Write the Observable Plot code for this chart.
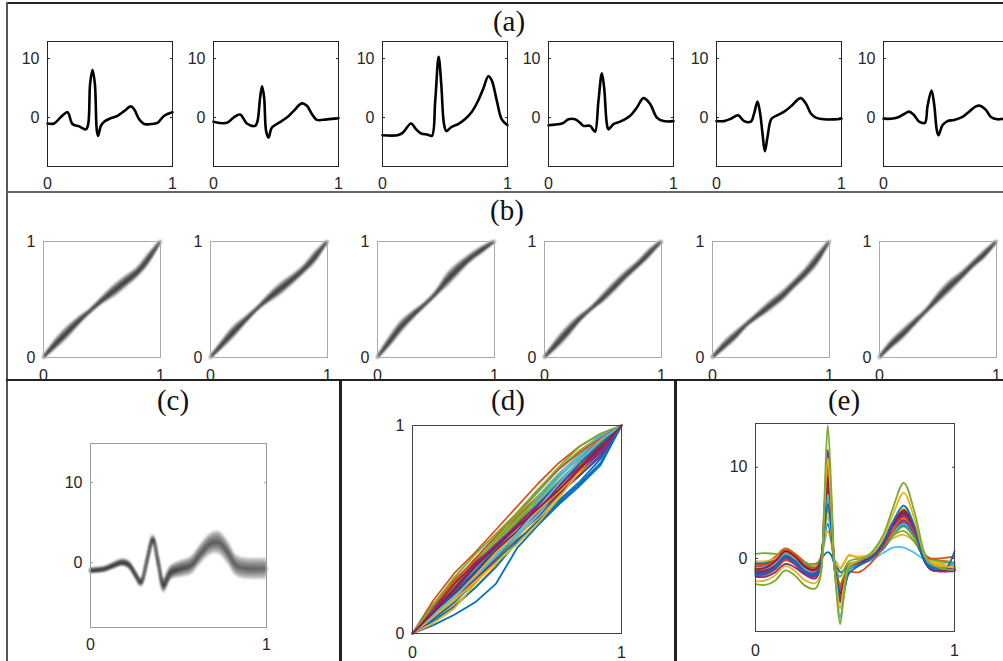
<!DOCTYPE html>
<html><head><meta charset="utf-8">
<script src="https://cdn.jsdelivr.net/npm/d3@7"></script>
<script src="https://cdn.jsdelivr.net/npm/@observablehq/plot@0.6"></script>
<style>
html,body{margin:0;padding:0;background:#fff;}
#fig{position:relative;width:1003px;height:661px;overflow:hidden;background:#fff;}
.cell{position:absolute;}
.cell svg{overflow:visible;max-width:none !important;display:block;}
.ttl{position:absolute;font-family:"Liberation Serif","Times New Roman",serif;font-size:29px;color:#111;transform:translate(-50%,-50%);white-space:nowrap;line-height:1;}
.ln{position:absolute;}
</style></head><body><div id="fig"></div>
<script>
// ---------------- DATA ----------------
const unitTicks = [0, 1];
const ecgTicks = [0, 10];
const titles = ["(a)", "(b)", "(c)", "(d)", "(e)"];
const matlabColors = ["#0072BD", "#D95319", "#EDB120", "#7E2F8E", "#77AC30", "#4DBEEE", "#A2142F"];

// (a) individual beats
const a1x = [0,0.053,0.107,0.16,0.2,0.253,0.307,0.325,0.341,0.36,0.379,0.395,0.405,0.427,0.453,0.507,0.56,0.613,0.667,0.693,0.733,0.773,0.827,0.88,0.933,1];
const a1y = [-1.0,-1.0,0.1,0.9,-1.1,-1.5,-2.0,-1.2,5.7,8.1,5.7,-2.3,-3.1,-1.4,-0.7,-0.1,0.3,1.1,1.9,1.4,-0.3,-1.1,-1.1,-0.9,0.3,0.9];
const a2x = [0,0.107,0.16,0.213,0.267,0.333,0.352,0.373,0.389,0.405,0.421,0.44,0.467,0.507,0.587,0.64,0.707,0.747,0.787,0.827,0.907,1];
const a2y = [-0.7,-0.9,0.0,0.5,-1.0,-1.4,-0.6,3.4,5.3,3.4,-2.3,-3.4,-1.7,-1.1,0.0,1.1,2.4,2.0,0.6,-0.4,-0.3,-0.1];
const a3x = [0,0.121,0.161,0.228,0.269,0.309,0.363,0.395,0.422,0.449,0.47,0.492,0.511,0.551,0.605,0.659,0.712,0.766,0.806,0.847,0.874,0.914,0.954,1];
const a3y = [-3.0,-3.0,-2.6,-1.0,-2.0,-2.7,-2.9,-3.1,2.9,10.3,5.7,-1.1,-2.3,-1.6,-1.1,-0.3,0.9,2.9,4.9,7.0,6.3,2.9,-0.3,-1.3];
const a4x = [0,0.093,0.12,0.16,0.213,0.253,0.28,0.333,0.355,0.373,0.4,0.427,0.445,0.467,0.48,0.52,0.573,0.653,0.707,0.76,0.813,0.867,0.92,1];
const a4y = [-1.3,-1.1,-0.9,-0.3,-0.3,-0.9,-1.4,-1.4,-2.0,-2.4,2.9,7.5,5.1,-1.1,-2.0,-1.1,-0.7,0.3,1.7,3.3,2.3,0.0,-0.6,-0.6];
const a5x = [0,0.061,0.115,0.173,0.221,0.275,0.301,0.328,0.349,0.368,0.387,0.408,0.44,0.488,0.541,0.595,0.648,0.675,0.715,0.755,0.795,0.861,0.941,1];
const a5y = [-0.6,-0.6,-0.2,0.4,-0.6,-0.7,0.7,2.7,0.7,-2.7,-5.7,-3.3,-0.2,0.4,1.0,1.9,3.0,3.3,2.4,0.7,0.0,-0.3,-0.3,-0.2];
const a6x = [0,0.059,0.112,0.165,0.205,0.245,0.285,0.331,0.352,0.384,0.405,0.427,0.44,0.472,0.512,0.565,0.632,0.685,0.739,0.773,0.819,0.859,0.912,0.963,1];
const a6y = [-0.2,-0.2,0.0,0.6,1.0,0.4,-0.7,-0.9,1.9,4.6,2.3,-2.2,-3.0,-1.3,-0.6,-0.4,0.1,1.0,1.9,2.0,1.3,0.1,-0.3,-0.2,-0.2];
// x tick labels shown per (a) panel (the last panel's "1" falls outside the figure)
const aXTicks = [[0,1],[0,1],[0,1],[0,1],[0,1],[0]];

// (b) warping functions: centre of the bundle and its half spread
const bx = [0,0.1,0.2,0.3,0.4,0.5,0.6,0.7,0.8,0.9,1];
const b1y = [0,0.11,0.21,0.31,0.40,0.49,0.57,0.65,0.73,0.85,1];
const b1w = [0.006,0.035,0.042,0.03,0.014,0.025,0.042,0.042,0.035,0.04,0.006];
const b2y = [0,0.11,0.22,0.32,0.42,0.51,0.59,0.67,0.76,0.87,1];
const b2w = [0.006,0.03,0.042,0.025,0.012,0.03,0.042,0.035,0.03,0.04,0.006];
const b3y = [0,0.13,0.26,0.36,0.45,0.55,0.67,0.77,0.86,0.93,1];
const b3w = [0.006,0.035,0.042,0.03,0.014,0.018,0.048,0.042,0.03,0.025,0.006];
const b4y = [0,0.11,0.22,0.33,0.42,0.51,0.61,0.71,0.80,0.90,1];
const b4w = [0.006,0.035,0.042,0.025,0.012,0.03,0.035,0.03,0.025,0.03,0.006];
const b5y = [0,0.10,0.19,0.29,0.37,0.45,0.53,0.63,0.73,0.85,1];
const b5w = [0.006,0.03,0.03,0.014,0.025,0.035,0.035,0.03,0.035,0.042,0.006];
const b6y = [0,0.11,0.20,0.30,0.40,0.51,0.61,0.70,0.80,0.89,1];
const b6w = [0.006,0.03,0.035,0.025,0.014,0.035,0.042,0.03,0.025,0.03,0.006];

// (c) template band
const cx = [0,0.076,0.13,0.18,0.22,0.256,0.288,0.32,0.356,0.386,0.417,0.455,0.51,0.57,0.625,0.68,0.73,0.78,0.83,0.89,1.0];
const cy = [-1.0,-0.85,-0.4,0.0,-0.3,-1.5,-2.5,0.0,2.9,0.0,-2.9,-1.3,-0.8,-0.4,1.05,2.3,2.5,1.3,-0.4,-0.75,-0.75];
const cw = [0.35,0.35,0.4,0.45,0.5,0.5,0.55,0.6,0.6,0.7,0.9,0.9,1.0,1.1,1.2,1.3,1.4,1.4,1.3,1.3,1.3];

// (d) estimated warping functions
const dx = [0,0.1,0.2,0.3,0.4,0.5,0.6,0.7,0.8,0.9,1];
const dCurves = [
  [0,0.04,0.09,0.15,0.24,0.41,0.52,0.62,0.71,0.81,1],
  [0,0.16,0.29,0.39,0.50,0.61,0.72,0.82,0.90,0.96,1],
  [0,0.07,0.14,0.22,0.33,0.44,0.55,0.66,0.77,0.88,1],
  [0,0.14,0.24,0.33,0.43,0.53,0.63,0.73,0.83,0.91,1],
  [0,0.12,0.25,0.36,0.46,0.57,0.68,0.79,0.88,0.95,1],
  [0,0.10,0.20,0.31,0.40,0.49,0.62,0.73,0.82,0.93,1],
  [0,0.11,0.21,0.30,0.39,0.48,0.60,0.68,0.78,0.88,1],
  [0,0.08,0.17,0.27,0.37,0.47,0.56,0.67,0.76,0.86,1],
  [0,0.13,0.26,0.35,0.44,0.56,0.66,0.75,0.85,0.93,1],
  [0,0.09,0.19,0.28,0.40,0.51,0.60,0.70,0.80,0.90,1],
  [0,0.10,0.19,0.29,0.39,0.50,0.59,0.70,0.78,0.87,1],
  [0,0.09,0.18,0.30,0.42,0.52,0.64,0.75,0.86,0.94,1],
  [0,0.12,0.22,0.33,0.44,0.53,0.66,0.77,0.86,0.96,1],
  [0,0.07,0.16,0.26,0.36,0.46,0.58,0.70,0.80,0.90,1],
  [0,0.06,0.13,0.22,0.32,0.44,0.54,0.64,0.73,0.84,1],
  [0,0.10,0.22,0.33,0.43,0.53,0.62,0.72,0.82,0.91,1],
  [0,0.05,0.12,0.24,0.35,0.46,0.57,0.68,0.79,0.89,1],
  [0,0.08,0.18,0.27,0.38,0.49,0.58,0.67,0.76,0.85,1],
  [0,0.11,0.23,0.34,0.45,0.55,0.65,0.76,0.84,0.92,1],
  [0,0.09,0.17,0.28,0.38,0.47,0.57,0.70,0.81,0.90,1],
  [0,0.12,0.24,0.34,0.42,0.52,0.61,0.71,0.81,0.90,1],
  [0,0.07,0.15,0.25,0.35,0.45,0.53,0.63,0.72,0.82,1],
  [0,0.09,0.20,0.31,0.41,0.50,0.61,0.71,0.81,0.92,1],
  [0,0.08,0.16,0.25,0.34,0.43,0.53,0.65,0.78,0.89,1],
  [0,0.12,0.21,0.31,0.41,0.51,0.61,0.69,0.79,0.88,1],
  [0,0.10,0.21,0.32,0.43,0.54,0.63,0.73,0.83,0.92,1],
  [0,0.11,0.21,0.31,0.42,0.50,0.63,0.75,0.85,0.95,1],
  [0,0.09,0.19,0.29,0.40,0.49,0.60,0.71,0.82,0.91,1],
  [0,0.10,0.20,0.30,0.41,0.52,0.62,0.72,0.82,0.91,1],
  [0,0.13,0.25,0.36,0.47,0.58,0.69,0.79,0.87,0.94,1],
  [0,0.08,0.17,0.28,0.39,0.48,0.59,0.69,0.79,0.89,1],
  [0,0.11,0.22,0.33,0.43,0.52,0.62,0.72,0.80,0.89,1],
  [0,0.14,0.27,0.38,0.48,0.58,0.69,0.80,0.90,0.96,1],
  [0,0.09,0.18,0.27,0.37,0.48,0.60,0.72,0.83,0.93,1],
  [0,0.10,0.21,0.32,0.42,0.51,0.60,0.69,0.79,0.89,1]
];

// (e) aligned beats
const ex = [0,0.05,0.10,0.15,0.20,0.25,0.30,0.325,0.345,0.363,0.38,0.395,0.41,0.425,0.445,0.47,0.52,0.58,0.64,0.69,0.745,0.80,0.85,0.88,0.92,0.96,1.0];
const eCurves = [
  [-1.0,-0.9,-0.4,0.7,0.1,-0.8,-1.1,-0.5,3.8,8,4.8,-0.3,-2.4,-3.6,-2.4,-0.9,-0.5,0.1,1.5,3.4,4.6,2.9,0,-0.9,-1.1,-1.1,-1.0],
  [-1.3,-1.2,-0.6,0.5,0.0,-1.1,-1.4,-0.7,4,9.8,5.6,-0.5,-3,-4.4,-2.9,-1.1,-0.6,0.1,1.4,3.2,4.3,2.7,-0.3,-1.1,-1.3,-1.3,-1.2],
  [-0.8,-0.7,-0.2,0.7,0.1,-0.8,-1.1,-0.5,3,6.8,3.9,-0.4,-2.3,-3.4,-2.3,-0.9,-0.4,0.2,1.4,3.1,4.1,2.6,0,-0.7,-0.9,-1.0,-0.9],
  [-1.1,-1.0,-0.4,0.6,0.0,-1.0,-1.2,-0.6,4.2,10.2,5.8,-0.4,-2.7,-4.0,-2.6,-1.0,-0.5,0.1,1.6,3.7,5.1,3.2,-0.2,-1.1,-1.3,-1.3,-1.2],
  [-1.5,-1.4,-0.9,0.2,-0.3,-1.3,-1.6,-0.9,3.3,7.2,4.2,-0.6,-2.9,-4.3,-2.9,-1.1,-0.6,0.0,1.4,3.3,4.5,2.8,-0.3,-1.1,-1.3,-1.3,-1.3],
  [-0.7,-0.6,-0.1,0.8,0.2,-0.6,-0.9,-0.3,2.8,6.2,3.6,-0.2,-1.8,-2.8,-1.9,-0.6,-0.3,0.3,1.5,3.3,4.3,2.7,0.2,-0.5,-0.7,-0.8,-0.8],
  [-1.4,-1.3,-0.7,0.4,-0.1,-1.1,-1.5,-0.8,2.6,5.8,3.4,-0.6,-2.6,-3.8,-2.6,-1.0,-0.6,0.1,1.7,3.9,5.5,3.4,-0.1,-1.0,-1.2,-1.2,-1.1],
  [-1.9,-1.8,-1.2,-0.2,-0.7,-1.7,-2.0,-1.2,3.2,7.8,4.6,-0.7,-3.1,-4.6,-3.1,-1.2,-0.7,0.0,1.3,3.0,4.0,2.5,-0.3,-1.0,-1.2,-1.3,-1.3],
  [-1.2,-1.1,-0.6,0.5,0.0,-1.0,-1.3,-0.7,3,5.5,3.2,-0.5,-2.2,-3.2,-2.3,-1.0,-0.5,0.1,1.4,3.5,5.0,3.0,-0.2,-1.0,-1.2,-1.2,-1.1],
  [-1.6,-1.5,-0.9,0.2,-0.3,-1.3,-1.7,-0.9,3.5,7.5,4.5,-0.6,-3,-4.2,-2.8,-1.1,-0.6,0.1,1.5,3.4,4.6,2.8,-0.2,-1.1,-1.3,-1.4,-1.4],
  [-0.9,-0.8,-0.4,0.6,0.0,-0.9,-1.2,-0.6,1.5,3,1.8,-0.2,-1.0,-1.2,-0.5,0.4,0.0,0.3,1.2,2.2,2.6,1.8,0.2,-0.3,-0.5,-0.5,-0.4],
  [-1.7,-1.6,-1.1,0.0,-0.6,-1.6,-1.9,-1.0,2.5,6,3.5,-0.6,-2.8,-4.2,-2.8,-1.1,-0.7,0.0,1.3,2.9,3.9,2.5,-0.3,-1.1,-1.2,-1.3,-1.2],
  [-0.9,-0.8,-0.2,0.9,0.3,-0.6,-0.9,-0.4,2.2,3.8,2.2,-0.4,-1.8,-3.0,-2.0,-0.8,-0.4,0.2,1.6,3.8,5.2,3.2,0,-0.8,-1.0,-1.0,-0.9],
  [-1.3,-1.2,-0.7,0.3,-0.2,-1.1,-1.4,-0.8,2,4.5,2.8,-0.6,-2.6,-4.0,-2.8,-1.0,-0.6,0.0,1.1,2.8,3.8,2.4,-0.3,-1.0,-1.2,-1.2,-1.1],
  [-1.1,-1.0,-0.5,0.5,0.0,-0.8,-1.0,-0.4,2.8,5.5,3.2,-0.4,-2.0,-3.0,-2.0,-0.7,-0.4,0.2,1.2,2.5,3.0,1.8,0.0,-0.6,-0.8,-0.9,-0.9],
  [-0.6,-0.5,0.2,1.1,0.5,-0.4,-0.8,-0.2,4,9.5,5.5,0,-2.2,-3.5,-2.4,-0.8,-0.4,0.2,1.6,3.5,4.8,3.0,0.5,0.0,-0.2,-0.3,-0.5],
  [-1.4,-1.3,-0.8,0.4,0.0,-1.0,-1.4,-0.6,3.5,8.5,5,-0.5,-2.5,-3.8,-2.6,-1.0,-0.6,0.1,1.4,3.3,5.0,3.0,-0.3,-1.2,-1.4,-1.4,-1.3],
  [-0.3,-0.3,0,0.8,0.2,-0.5,-0.8,-0.2,2.5,5,3,0,-0.5,-1.0,-0.5,0.3,0.2,0.5,1.5,3.2,4.4,2.8,0.3,-0.4,-0.6,-0.8,-1.0],
  [-2.0,-2.0,-1.5,-0.6,-1.0,-1.8,-2.2,-1.2,3,8,4.5,-0.5,-3,-4.5,-3,-1.2,-0.7,0,1.3,3,4.2,2.6,-0.2,-0.8,-1.0,-1.1,-1.2],
  [-0.5,-0.5,-0.2,0.8,0.2,-0.5,-0.6,-0.3,0.4,0.7,0.4,-0.5,-1.0,-1.5,-1.3,-0.8,-0.4,0.0,1.0,2.5,3.6,2.2,-0.2,-0.8,-0.9,-0.8,-0.6],
  [0.5,0.6,0.5,0.6,0.0,-0.5,-0.6,0,3,6.5,3.8,-0.2,-1.5,-2.0,-1.2,-0.3,0,0.3,1.2,2.5,3.5,2.2,0.3,-0.1,-0.3,-0.4,-0.5],
  [-1.0,-0.9,-0.5,0.4,-0.2,-1.2,-1.5,-0.8,3,7,4,-0.8,-4,-6.5,-4,-1.2,-0.6,-0.2,0.6,1.2,1.2,0.6,-0.2,-0.6,-0.8,-0.8,-0.7],
  [-0.8,-0.7,-0.2,0.9,0.3,-0.7,-1.0,-0.3,4.5,10.5,6,0,-2,-3.0,-2.2,-1.5,-1.5,-0.5,1.2,3.0,4.5,2.8,0.3,0.0,0,0.1,0.2],
  [-1.2,-1.0,-0.3,0.8,0.2,-0.9,-1.2,-0.5,4,9,5,-0.5,-2.8,-4.0,-2.5,-0.9,-0.5,0,1.5,3.6,5.3,3.3,-0.2,-1.1,-1.3,-1.3,-1.2],
  [-1.5,-1.4,-0.8,0.3,-0.3,-1.4,-1.6,-0.8,5,11.9,6.5,-0.5,-3.2,-4.8,-3,-1.0,-0.5,0.2,1.5,3.5,4.8,3.0,-0.3,-1.2,-1.4,-1.4,-1.3],
  [-1.8,-1.7,-1.0,0.2,-0.4,-1.5,-1.8,-1.0,3,6,3.5,-0.5,-2.5,-4,-3.5,-1.6,-0.8,0,1.8,4,5.8,3.5,-0.2,-1.0,-1.2,-1.0,0.8],
  [-2.5,-2.4,-1.8,-0.8,-1.4,-2.4,-2.7,-1.8,5,11,6,-0.5,-3.5,-5.5,-3,-0.8,-0.2,0.5,2.2,4.8,7.2,4.2,0.3,-0.5,-0.8,-0.9,-1.0],
  [-2.8,-2.9,-2.4,-1.3,-1.9,-3.0,-3.3,-2.2,6,14.6,8,0,-4.5,-7.2,-4,-1.0,-0.3,0.6,2.5,5.5,8.3,5.0,0.5,-0.6,-1.0,-1.2,-1.3]
];
const eColorIdx = [1,3,5,6,0,4,2,1, 0,6,2,3,0,5,4,1,6,2,3,0,4,5,1,6,3,0,2,4];

// ---------------- LAYOUT HELPERS ----------------
const fig = document.getElementById("fig");
const FONT = "'Liberation Sans', Arial, Helvetica, sans-serif";
const TXT = "#262626";
let uid = 0;

function panel({left, top, w, h, yDomain, yTicks, xTicks = unitTicks, marks, frameColor, xPad, yPad = 8, blur = 0, gradient = null}) {
  const mL = 45, mR = 14, mT = 14, mB = 34;
  const W = w + mL + mR, H = h + mT + mB;
  const svg = Plot.plot({
    width: W, height: H,
    marginLeft: mL, marginRight: mR, marginTop: mT, marginBottom: mB,
    x: {domain: [0, 1], label: null},
    y: {domain: yDomain, label: null},
    color: {type: "identity"},
    style: {fontFamily: FONT, fontSize: "16px", color: TXT, background: "transparent", overflow: "visible"},
    marks: [
      ...marks,
      Plot.frame({stroke: frameColor, strokeWidth: 1}),
      Plot.axisY({anchor: "left", ticks: yTicks, tickSize: -3, tickFormat: () => "", stroke: frameColor, label: null}),
      Plot.axisY({anchor: "right", ticks: yTicks, tickSize: -3, tickFormat: () => "", stroke: frameColor, label: null}),
      Plot.axisX({ticks: xTicks, tickSize: 0, tickPadding: xPad, tickFormat: d3.format("d"), color: TXT, label: null}),
      Plot.axisY({ticks: yTicks, tickSize: 0, tickPadding: yPad, tickFormat: d3.format("d"), color: TXT, label: null})
    ]
  });
  const ns = "http://www.w3.org/2000/svg";
  if (blur || gradient) {
    const id = "p" + (uid++);
    const defs = document.createElementNS(ns, "defs");
    let html = "";
    if (blur) html += `<filter id="f${id}" x="-20%" y="-20%" width="140%" height="140%"><feGaussianBlur stdDeviation="${blur}"/></filter>`;
    if (gradient) html += `<linearGradient id="g${id}" x1="0" x2="1" y1="0" y2="0">${gradient.map(([o, c]) => `<stop offset="${o}" stop-color="${c}"/>`).join("")}</linearGradient>`;
    defs.innerHTML = html;
    svg.prepend(defs);
    svg.querySelectorAll('g[aria-label="area"], g[aria-label="line"]').forEach(g => {
      if (blur) g.setAttribute("filter", `url(#f${id})`);
      if (gradient) {
        g.querySelectorAll("path").forEach(p => {
          if (g.getAttribute("aria-label") === "area") p.setAttribute("fill", `url(#g${id})`);
          else p.setAttribute("stroke", `url(#g${id})`);
        });
      }
    });
  }
  const div = document.createElement("div");
  div.className = "cell";
  div.style.left = (left - mL) + "px";
  div.style.top = (top - mT) + "px";
  div.style.width = W + "px";
  div.style.height = H + "px";
  div.appendChild(svg);
  fig.appendChild(div);
}

function title(text, x, y) {
  const d = document.createElement("div");
  d.className = "ttl"; d.textContent = text;
  d.style.left = x + "px"; d.style.top = y + "px";
  fig.appendChild(d);
}
function rule(x, y, w, h, c) {
  const d = document.createElement("div");
  d.className = "ln";
  Object.assign(d.style, {left: x + "px", top: y + "px", width: w + "px", height: h + "px", background: c});
  fig.appendChild(d);
}

// ---------------- (a) ----------------
const aBeats = [[a1x, a1y], [a2x, a2y], [a3x, a3y], [a4x, a4y], [a5x, a5y], [a6x, a6y]];
const aLeft = [47, 213, 382, 548, 716, 883];
aBeats.forEach(([xs, ys], i) => {
  const data = xs.map((x, j) => ({x, y: ys[j]}));
  panel({
    left: aLeft[i], top: 41, w: 125, h: 125, yDomain: [-8.3, 12.9], yTicks: ecgTicks, xTicks: aXTicks[i],
    frameColor: "#222", xPad: 11,
    marks: [Plot.line(data, {x: "x", y: "y", stroke: "#000", strokeWidth: 2.6, curve: "catmull-rom"})]
  });
});

// ---------------- (b) ----------------
const bBands = [[b1y, b1w], [b2y, b2w], [b3y, b3w], [b4y, b4w], [b5y, b5w], [b6y, b6w]];
const bLeft = [43, 210, 377, 544, 712, 879];
bBands.forEach(([ys, ws], i) => {
  const data = bx.map((x, j) => ({x, y: ys[j], w: ws[j]}));
  const layers = [1.25, 0.85, 0.45].map(k => Plot.areaY(data, {
    x: "x", y1: d => d.y - k * d.w, y2: d => d.y + k * d.w,
    fill: "#333", fillOpacity: 0.42, curve: "catmull-rom"
  }));
  panel({
    left: bLeft[i], top: 241, w: 117, h: 116, yDomain: [0, 1], yTicks: unitTicks,
    frameColor: "#aaa", xPad: 12, blur: 0.8,
    marks: [...layers, Plot.line(data, {x: "x", y: "y", stroke: "#333", strokeWidth: 2, strokeOpacity: 0.85, curve: "catmull-rom"})]
  });
});

// ---------------- (c) ----------------
{
  const data = cx.map((x, j) => ({x, y: cy[j], w: cw[j]}));
  const layers = [1, 0.7, 0.45, 0.2].map(k => Plot.areaY(data, {
    x: "x", y1: d => d.y - k * d.w, y2: d => d.y + k * d.w,
    fill: "#555", fillOpacity: 0.38, curve: "catmull-rom"
  }));
  panel({
    left: 90, top: 443, w: 176, h: 184, yDomain: [-8.1, 14.9], yTicks: ecgTicks,
    frameColor: "#999", xPad: 11, blur: 1.3,
    gradient: [[0, "#262626"], [0.4, "#303030"], [0.6, "#4e4e4e"], [1, "#606060"]],
    marks: [...layers, Plot.line(data, {x: "x", y: "y", stroke: "#444", strokeWidth: 2.4, strokeOpacity: 0.7, curve: "catmull-rom"})]
  });
}

// ---------------- (d) ----------------
{
  const data = dCurves.flatMap((ys, i) => dx.map((x, j) => ({id: i, x, y: ys[j], c: matlabColors[i % 7]})));
  panel({
    left: 412, top: 425, w: 209, h: 208, yDomain: [0, 1], yTicks: unitTicks,
    frameColor: "#444", xPad: 13,
    marks: [Plot.line(data, {x: "x", y: "y", z: "id", stroke: "c", strokeWidth: 1.8})]
  });
}

// ---------------- (e) ----------------
{
  const data = eCurves.flatMap((ys, i) => ex.map((x, j) => ({id: i, x, y: ys[j], c: matlabColors[eColorIdx[i]]})));
  panel({
    left: 755, top: 423, w: 199, h: 208, yDomain: [-8, 14.8], yTicks: ecgTicks,
    frameColor: "#444", xPad: 13,
    marks: [Plot.line(data, {x: "x", y: "y", z: "id", stroke: "c", strokeWidth: 1.8, curve: "catmull-rom"})]
  });
}

// ---------------- frame lines & titles ----------------
rule(6, 2, 997, 2, "#222");
rule(6, 2, 2, 659, "#555");
rule(6, 191, 997, 2, "#666");
rule(6, 379, 997, 2, "#222");
rule(339, 380, 3, 281, "#222");
rule(674, 380, 3, 281, "#222");

title(titles[0], 509, 21);
title(titles[1], 507, 210);
title(titles[2], 173, 400);
title(titles[3], 508, 400);
title(titles[4], 844, 400);
</script></body></html>
